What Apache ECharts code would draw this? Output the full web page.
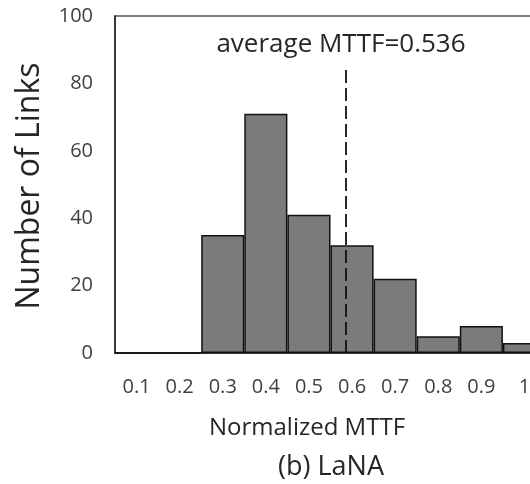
<!DOCTYPE html>
<html>
<head>
<meta charset="utf-8">
<script src="https://cdn.jsdelivr.net/npm/echarts@6/dist/echarts.min.js"></script>
<style>
  html, body { margin: 0; padding: 0; background: #fff; }
  #chart { width: 530px; height: 484px; }
</style>
</head>
<body>
<div id="chart"></div>
<script>
// Histogram bins (upper edge of each normalized-MTTF bin) and link counts
const binLabels = ['0.1', '0.2', '0.3', '0.4', '0.5', '0.6', '0.7', '0.8', '0.9', '1'];
const linkCounts = [0, 0, 35, 71, 41, 32, 22, 5, 8, 3];
const yTicks = [0, 20, 40, 60, 80, 100];
const avgMTTF = 0.536;
const avgLineTop = 85;

const FONT = '"Open Sans", sans-serif';
const chart = echarts.init(document.getElementById('chart'), null, { renderer: 'canvas' });

chart.setOption({
  animation: false,
  backgroundColor: '#ffffff',
  grid: {
    left: 115, top: 16, width: 431, height: 337,
    outerBoundsMode: 'none',
    containLabel: false,
    show: true, borderColor: '#555555', borderWidth: 1.5, backgroundColor: 'transparent'
  },
  xAxis: [
    {
      type: 'category',
      data: binLabels,
      axisLine: { show: true, lineStyle: { color: '#222', width: 1.5 } },
      axisTick: { show: false },
      axisLabel: { color: '#404040', fontSize: 20, fontFamily: FONT, margin: 24 },
      splitLine: { show: false }
    },
    {
      // continuous 0..1 scale spanning the same width, used to place the mean line
      type: 'value', min: 0, max: 1, show: false, position: 'bottom'
    }
  ],
  yAxis: {
    type: 'value', min: yTicks[0], max: yTicks[yTicks.length - 1], interval: 20,
    axisLine: { show: true, lineStyle: { color: '#222', width: 1.5 } },
    axisTick: { show: false },
    splitLine: { show: false },
    axisLabel: { color: '#404040', fontSize: 20, fontFamily: FONT, margin: 22 }
  },
  series: [
    {
      type: 'bar',
      data: linkCounts,
      barCategoryGap: 0,
      itemStyle: { color: '#7b7b7b', borderColor: '#111', borderWidth: 1.5 }
    },
    {
      type: 'line',
      xAxisIndex: 1,
      data: [[avgMTTF, 0], [avgMTTF, avgLineTop]],
      symbol: 'none',
      lineStyle: { color: '#111', width: 1.8, type: [13, 5] },
      z: 5
    }
  ],
  graphic: [
    {
      type: 'text',
      style: {
        text: 'average MTTF=' + avgMTTF, x: 341, y: 45,
        fontSize: 26, fontFamily: FONT, fill: '#262626',
        textAlign: 'center', textVerticalAlign: 'middle'
      }
    },
    {
      type: 'text',
      style: {
        text: 'Number of Links', x: 0, y: 0,
        fontSize: 32, fontFamily: FONT, fill: '#262626',
        textAlign: 'center', textVerticalAlign: 'middle'
      },
      x: 30, y: 186, rotation: Math.PI / 2
    },
    {
      type: 'text',
      style: {
        text: 'Normalized MTTF', x: 307, y: 428,
        fontSize: 24, fontFamily: FONT, fill: '#262626',
        textAlign: 'center', textVerticalAlign: 'middle'
      }
    },
    {
      type: 'text',
      style: {
        text: '(b) LaNA', x: 331, y: 467,
        fontSize: 27, fontFamily: FONT, fill: '#262626',
        textAlign: 'center', textVerticalAlign: 'middle'
      }
    }
  ]
});
</script>
</body>
</html>
